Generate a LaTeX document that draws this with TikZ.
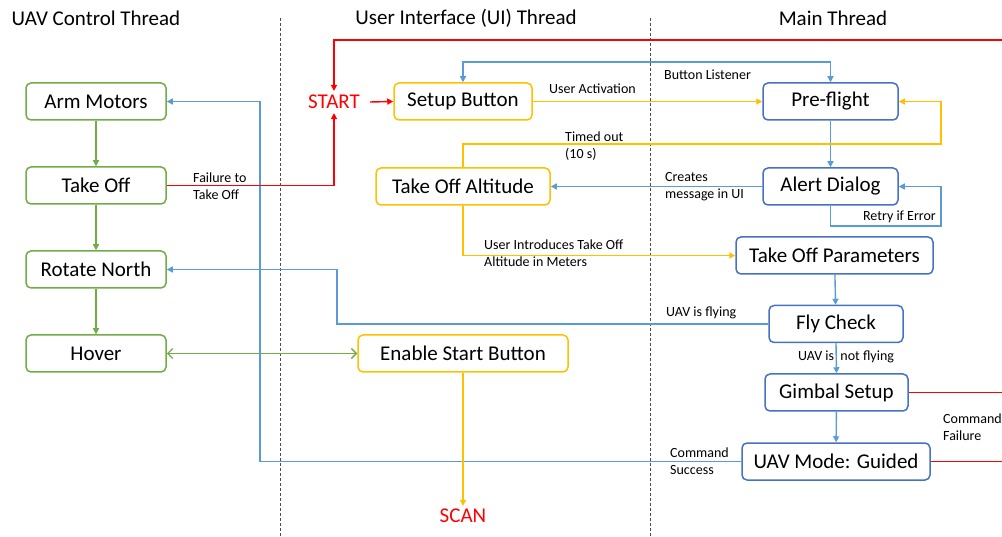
\documentclass[tikz,border=0pt]{standalone}
\usepackage{fontspec}
\setmainfont{Carlito}
\usetikzlibrary{arrows.meta}
\definecolor{cgreen}{HTML}{70AD47}
\definecolor{cblue}{HTML}{5B9BD5}
\definecolor{cboxblue}{HTML}{4472C4}
\definecolor{cyellow}{HTML}{FFC000}
\definecolor{cred}{HTML}{FF0000}
\begin{document}
\begin{tikzpicture}[x=1pt,y=-1pt,
 box/.style={draw, rounded corners=5pt, line width=1.5pt, minimum height=37pt, inner sep=0pt, font=\fontsize{21}{24}\selectfont, fill=white},
 gbox/.style={box, draw=cgreen},
 ybox/.style={box, draw=cyellow},
 bbox/.style={box, draw=cboxblue},
 ln/.style={line width=1.4pt},
 conn/.style={ln, -{Triangle[length=6pt,width=6pt]}},
 bconn/.style={ln, {Triangle[length=6pt,width=6pt]}-{Triangle[length=6pt,width=6pt]}},
 lbl/.style={font=\fontsize{14}{17}\selectfont, align=left, anchor=west, inner sep=0pt},
 ttl/.style={font=\fontsize{21}{24}\selectfont, inner sep=0pt},
 redtxt/.style={font=\fontsize{21}{24}\selectfont, text=cred},
 divider/.style={line width=0.8pt, draw=black!70, dash pattern=on 3pt off 2pt},
 ]
\useasboundingbox (0,0) rectangle (1002,537);

% titles
\node[ttl] (t1) at (96,18) {UAV Control Thread};
\node[ttl] (t2) at (466,18) {User Interface (UI) Thread};
\node[ttl] (t3) at (833,18) {Main Thread};

% dividers
\draw[divider] (280,18) -- (280,537);
\draw[divider] (650,18) -- (650,537);

% UAV control thread
\node[gbox, minimum width=140pt] (arm) at (96,101.5) {Arm Motors};
\node[gbox, minimum width=140pt] (tko) at (96,185.5) {Take Off};
\node[gbox, minimum width=140pt] (rot) at (96,269.5) {Rotate North};
\node[gbox, minimum width=140pt] (hov) at (96,353.5) {Hover};

% UI thread
\node[redtxt, inner xsep=10pt, inner ysep=4pt] (start) at (334,102) {START};
\node[ybox, minimum width=138pt] (setup) at (463,101.5) {Setup Button};
\node[ybox, minimum width=174pt] (alt) at (463,186.5) {Take Off Altitude};
\node[ybox, minimum width=210pt] (enable) at (463,353.5) {Enable Start Button};
\node[redtxt, inner sep=3pt] (scan) at (463,516) {SCAN};

% Main thread
\node[bbox, minimum width=135pt] (pre) at (830.5,101.5) {Pre-flight};
\node[bbox, minimum width=135pt] (alert) at (830.5,186.5) {Alert Dialog};
\node[bbox, minimum width=197pt] (params) at (834.5,255.5) {Take Off Parameters};
\node[bbox, minimum width=134pt] (fly) at (836,324) {Fly Check};
\node[bbox, minimum width=143pt] (gimbal) at (836.5,392.5) {Gimbal Setup};
\node[bbox, minimum width=188pt] (guided) at (836,461.5) {UAV Mode: Guided};

% off-picture ends
\coordinate (redtop) at (1002,40);
\coordinate (gimbalout) at (1002,392.5);
\coordinate (guidedout) at (1002,461.5);

% green chain
\draw[conn, cgreen] (arm) -- (tko);
\draw[conn, cgreen] (tko) -- (rot);
\draw[conn, cgreen] (rot) -- (hov);
\draw[ln, cgreen, {Straight Barb[length=5pt,width=10pt]}-{Straight Barb[length=5pt,width=10pt]}] (hov.east) -- (enable.west);

% blue
\draw[bconn, cblue] (setup.north) |- (830.5,62) -- (pre.north);
\draw[conn, cblue] (pre) -- (alert);
\draw[conn, cblue] (alert.west) -- (alt.east);
\draw[conn, cblue] (alert.south) |- (941,226) |- (alert.east);
\draw[conn, cblue] (params) -- (fly);
\draw[conn, cblue] (fly.west) -| (337,269.5) -- (rot.east);
\draw[conn, cblue] (fly.south) -- (gimbal.north);
\draw[conn, cblue] (gimbal) -- (guided);
\draw[conn, cblue] (guided.west) -| (260,101.5) -- (arm.east);

% yellow
\draw[conn, cyellow] (setup.east) -- (pre.west);
\draw[conn, cyellow] (alt.north) |- (941,144) |- (pre.east);
\draw[conn, cyellow] (alt.south) |- (params.west);
\draw[conn, cyellow] (enable.south) -- (scan.north);

% red
\draw[conn, cred] (redtop) -| (start.north);
\draw[conn, cred] (tko.east) -| (start.south);
\draw[conn, cred] (start.east) -- (setup.west);
\draw[ln, cred] (gimbal.east) -- (gimbalout) (guided.east) -- (guidedout);

% labels
\node[lbl] (l1) at (193,186) {Failure to\\Take Off};
\node[lbl] (l2) at (549,89) {User Activation};
\node[lbl] (l3) at (664,75) {Button Listener};
\node[lbl] (l4) at (565,146) {Timed out\\(10 s)};
\node[lbl] (l5) at (665,187) {Creates\\message in UI};
\node[lbl, anchor=east] (l6) at (936,217) {Retry if Error};
\node[lbl] (l7) at (484,253.5) {User Introduces Take Off\\Altitude in Meters};
\node[lbl] (l8) at (666,313) {UAV is flying};
\node[lbl] (l9) at (798,357) {UAV is\ \ not flying};
\node[lbl] (l10) at (943,427) {Command\\Failure};
\node[lbl] (l11) at (670,461.5) {Command\\Success};
\end{tikzpicture}
\end{document}
